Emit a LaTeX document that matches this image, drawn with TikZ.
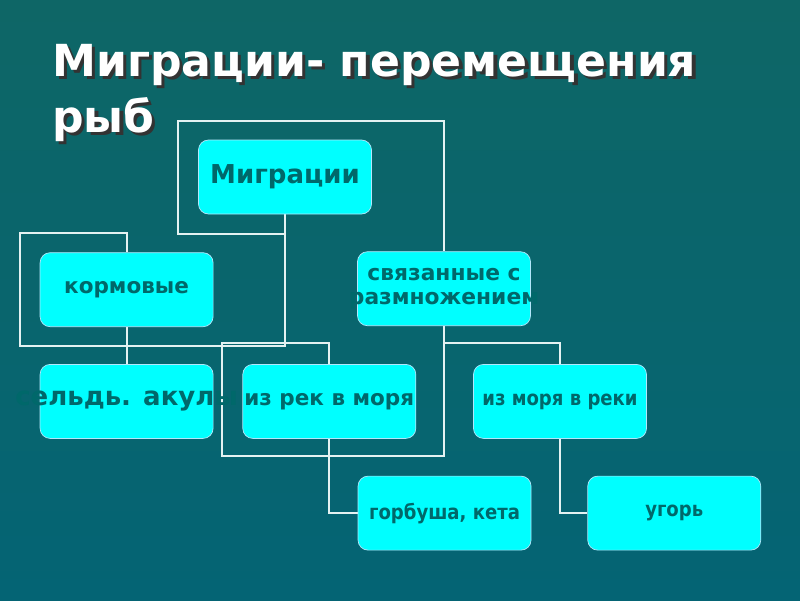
\documentclass[tikz,border=0pt]{standalone}
\usepackage{fontspec}
\setmainfont{DejaVu Sans}
\newfontfamily\narrowfont[FakeStretch=0.88]{DejaVu Sans}
\usetikzlibrary{positioning}
\usetikzlibrary{backgrounds}
\definecolor{bgtop}{RGB}{14,102,102}
\definecolor{bgbot}{RGB}{4,100,116}
\definecolor{boxtext}{RGB}{0,104,106}
\definecolor{boxfill}{RGB}{0,255,255}
\definecolor{linkcol}{RGB}{228,242,242}
\newcommand{\spill}[1]{\makebox[0pt]{#1}}
\newcommand{\shadowed}[1]{\makebox[0pt][l]{\hspace{0.8mm}\raisebox{-0.8mm}{\color{black!80}#1}}#1}

\begin{document}
\begin{tikzpicture}
  \tikzset{migbox/.style={minimum width=43.25mm,minimum height=18.5mm,inner sep=0pt,
             fill=boxfill,draw=white!70!cyan,line width=0.5pt,rounded corners=2.5mm,
             text=boxtext,align=center,font=\bfseries\fontsize{#1}{#1}\selectfont},
           narrowbox/.style={migbox=#1,font=\narrowfont\bfseries\fontsize{#1}{#1}\selectfont},
           title/.style={inner sep=0pt,text=white,font=\bfseries\fontsize{31.4}{31.4}\selectfont},
           link/.style={draw=linkcol,line width=1.3pt}}
  \useasboundingbox (0,0) rectangle (20,-15);
  \node[title,anchor=base west] (ttl) at (1.3,-1.9) {\shadowed{Миграции- перемещения}};
  \node[title,anchor=base west,yshift=-14mm] (ttlb) at (ttl.base west) {\shadowed{рыб}};

  \node[migbox=18.5] (migr) at (7.125,-4.425) {Миграции};
  \node[migbox=15.3,below=9.5mm,xshift=-39.6mm] (korm) at (migr.south) {кормовые};
  \node[migbox=15.5,below=9.25mm,xshift=39.75mm] (svyaz) at (migr.south)
    {\spill{связанные с}\\[0.6mm]\spill{размножением}};
  \node[migbox=18.5,below=9.25mm] (seld) at (korm.south) {\spill{сельдь. акулы}};
  \node[migbox=15.3,right=7.25mm] (izrek) at (seld.east) {из рек в моря};
  \node[narrowbox=14.6,right=14.25mm] (izmor) at (izrek.east) {из моря в реки};
  \node[narrowbox=14.6,below right=9.25mm and 7.1mm] (gorb) at (izrek.south) {горбуша, кета};
  \node[narrowbox=14.6,right=14mm] (ugor) at (gorb.east) {угорь};

  \begin{pgfonlayer}{background}
  \shade[top color=bgtop,bottom color=bgbot] (0,0) rectangle (20,-15);
  \draw[link] (migr.south) -- ++(0,-33mm) -- ++(-66.25mm,0) -- ++(0,28.25mm) -| (korm.north);
  \draw[link] (migr.south) -- ++(0,-5mm) -- ++(-26.75mm,0) -- ++(0,28.25mm) -| (svyaz.north);
  \draw[link] (korm.south) -- (seld.north);
  \draw[link] (svyaz.south) -- ++(0,-32.5mm) -- ++(-55.5mm,0) -- ++(0,28.25mm) -| (izrek.north);
  \draw[link] (svyaz.south) -- ++(0,-4.25mm) -| (izmor.north);
  \draw[link] (izrek.south) |- (gorb.west);
  \draw[link] (izmor.south) |- (ugor.west);
  \end{pgfonlayer}
\end{tikzpicture}
\end{document}
